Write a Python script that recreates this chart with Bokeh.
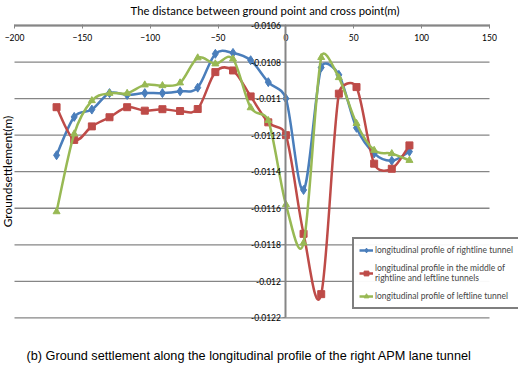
from math import pi, hypot
from bokeh.plotting import figure
from bokeh.models import (LinearAxis, FixedTicker, Label, Legend, LegendItem,
                          ColumnDataSource, CustomJSTickFormatter, Range1d)
from bokeh.embed import file_html
from bokeh.resources import INLINE

# ---- data ----
distance = [-169, -156, -143, -130, -117, -104, -91, -78, -65, -52, -39, -26, -13,
            0, 13, 26, 39, 52, 65, 78, 91]
rightline = [-0.01131, -0.01110, -0.01106, -0.01097, -0.01098, -0.01097, -0.01097,
             -0.01096, -0.01094, -0.010755, -0.01075, -0.01079, -0.01091, -0.01100,
             -0.01150, -0.01083, -0.01087, -0.01116, -0.01130, -0.01134, -0.01129]
middle = [-0.011047, -0.011226, -0.011152, -0.011102, -0.011047, -0.011066, -0.011058,
          -0.011068, -0.011057, -0.010855, -0.010846, -0.010988, -0.01113, -0.01120,
          -0.01174, -0.01207, -0.010973, -0.010937, -0.011356, -0.011384, -0.011256]
leftline = [-0.011619, -0.011193, -0.011011, -0.010971, -0.010971, -0.010925, -0.010929,
            -0.010914, -0.010777, -0.01081, -0.010783, -0.01105, -0.01112, -0.01158,
            -0.01179, -0.010775, -0.010885, -0.011136, -0.011283, -0.011301, -0.011338]

series_names = ["longitudinal profile of rightline tunnel",
                "longitudinal profile in the middle of\nrightline and leftline tunnels",
                "longitudinal profile of leftline tunnel"]
x_ticks = [-200, -150, -100, -50, 0, 50, 100, 150]
y_ticks = [-0.0106, -0.0108, -0.011, -0.0112, -0.0114, -0.0116, -0.0118, -0.012, -0.0122]
x_title = "The distance between ground point and cross point(m)"
y_title = "Groundsettlement(m)"
caption = "(b) Ground settlement along the longitudinal profile of the right APM lane tunnel"

# ---- layout constants (pixels) ----
W, H = 518, 368
PLOT_L, PLOT_R = 14.0, 489.0      # pixel span of the x axis (-200 .. 150)
PLOT_T, PLOT_B = 25.0, 317.4      # pixel span of the y axis (-0.0106 .. -0.0122)
kx = (PLOT_R - PLOT_L) / (x_ticks[-1] - x_ticks[0])
ky = (PLOT_B - PLOT_T) / (y_ticks[0] - y_ticks[-1])
x_range = Range1d(x_ticks[0] - PLOT_L / kx, x_ticks[-1] + (W - PLOT_R) / kx)
y_range = Range1d(y_ticks[-1] - (H - PLOT_B) / ky, y_ticks[0] + PLOT_T / ky)

p = figure(width=W, height=H, output_backend="svg", toolbar_location=None,
           x_axis_location=None, y_axis_location=None,
           x_range=x_range, y_range=y_range,
           min_border_left=0, min_border_right=0, min_border_top=0, min_border_bottom=0)
p.outline_line_color = None
p.background_fill_color = "white"
p.border_fill_color = "white"
p.title.visible = False
p.xgrid.visible = False
p.ygrid.visible = False

# horizontal gridlines across the plot area
p.segment(x0=x_ticks[0], x1=x_ticks[-1], y0=y_ticks, y1=y_ticks,
          line_color="#868686", line_width=1.3, level="underlay")

FONT = "Lato"

def smooth(xs, ys, t=1.0 / 6.0, cap=0.5):
    """Bezier control points for a smoothed line: Catmull-Rom style tangents,
    each handle limited to a fraction of its own segment's pixel length."""
    n = len(xs)
    d = dict(x0=[], y0=[], x1=[], y1=[], cx0=[], cy0=[], cx1=[], cy1=[])
    for i in range(n - 1):
        a = i - 1 if i > 0 else i
        j = i + 1
        b = j + 1 if j + 1 < n else j
        seg = hypot((xs[j] - xs[i]) * kx, (ys[j] - ys[i]) * ky)
        hx0, hy0 = (xs[j] - xs[a]) * t, (ys[j] - ys[a]) * t
        hx1, hy1 = (xs[b] - xs[i]) * t, (ys[b] - ys[i]) * t
        l0 = hypot(hx0 * kx, hy0 * ky)
        l1 = hypot(hx1 * kx, hy1 * ky)
        s0 = min(1.0, cap * seg / l0) if l0 > 0 else 1.0
        s1 = min(1.0, cap * seg / l1) if l1 > 0 else 1.0
        d["x0"].append(xs[i]); d["y0"].append(ys[i])
        d["x1"].append(xs[j]); d["y1"].append(ys[j])
        d["cx0"].append(xs[i] + hx0 * s0)
        d["cy0"].append(ys[i] + hy0 * s0)
        d["cx1"].append(xs[j] - hx1 * s1)
        d["cy1"].append(ys[j] - hy1 * s1)
    return ColumnDataSource(d)

# axes crossing inside the plot area
xaxis = LinearAxis(fixed_location=y_ticks[0], ticker=FixedTicker(ticks=x_ticks),
                   bounds=(x_ticks[0], x_ticks[-1]),
                   axis_line_color="#868686", axis_line_width=2,
                   major_tick_line_color="#868686", major_tick_out=3, major_tick_in=1,
                   minor_tick_line_color=None, major_label_standoff=5,
                   major_label_text_font=FONT, major_label_text_font_size="8.5px",
                   major_label_text_color="black")
p.add_layout(xaxis, "below")
yaxis = LinearAxis(fixed_location=0, ticker=FixedTicker(ticks=y_ticks),
                   bounds=(y_ticks[-1], y_ticks[0]),
                   formatter=CustomJSTickFormatter(code="return String(Number(tick.toFixed(4)));"),
                   axis_line_color="#868686", axis_line_width=2,
                   major_tick_line_color="#868686", major_tick_out=3, major_tick_in=0,
                   minor_tick_line_color=None, major_label_standoff=2,
                   major_label_text_font=FONT, major_label_text_font_size="8.5px",
                   major_label_text_color="black")
p.add_layout(yaxis, "left")

colors = ["#4A7EBB", "#BE4B48", "#98B954"]
markers = ["diamond", "square", "triangle"]
sizes = [9, 7, 7]
items = []
for ys, c, m, s, name in zip([rightline, middle, leftline], colors, markers, sizes, series_names):
    src = smooth(distance, ys)
    r1 = p.bezier(x0="x0", y0="y0", x1="x1", y1="y1", cx0="cx0", cy0="cy0",
                  cx1="cx1", cy1="cy1", source=src, line_color=c, line_width=2.5)
    r2 = p.scatter(distance, ys, marker=m, size=s, fill_color=c, line_color=c)
    items.append(LegendItem(label=name, renderers=[r1, r2]))

legend = Legend(items=items, location=(352, H - 309), border_line_color="black",
                border_line_width=2, label_text_font=FONT, label_text_font_size="8.5px",
                label_standoff=2, glyph_width=14, glyph_height=12, padding=5, spacing=7,
                margin=0, background_fill_color="white", label_height=10)
p.add_layout(legend)

p.add_layout(Label(x=264.5, y=H - 9.5, x_units="screen", y_units="screen", text=x_title,
                   text_align="center", text_baseline="middle", text_font=FONT,
                   text_font_size="11.3px", text_color="black"))
p.add_layout(Label(x=7, y=H - 171, x_units="screen", y_units="screen", text=y_title,
                   angle=pi / 2, text_align="center", text_baseline="middle",
                   text_font=FONT, text_font_size="12px", text_color="black"))
p.add_layout(Label(x=26, y=H - 355, x_units="screen", y_units="screen", text=caption,
                   text_align="left", text_baseline="middle", text_font="Liberation Sans",
                   text_font_size="12.7px", text_color="black"))

open("out.html", "w").write(file_html(p, INLINE))
